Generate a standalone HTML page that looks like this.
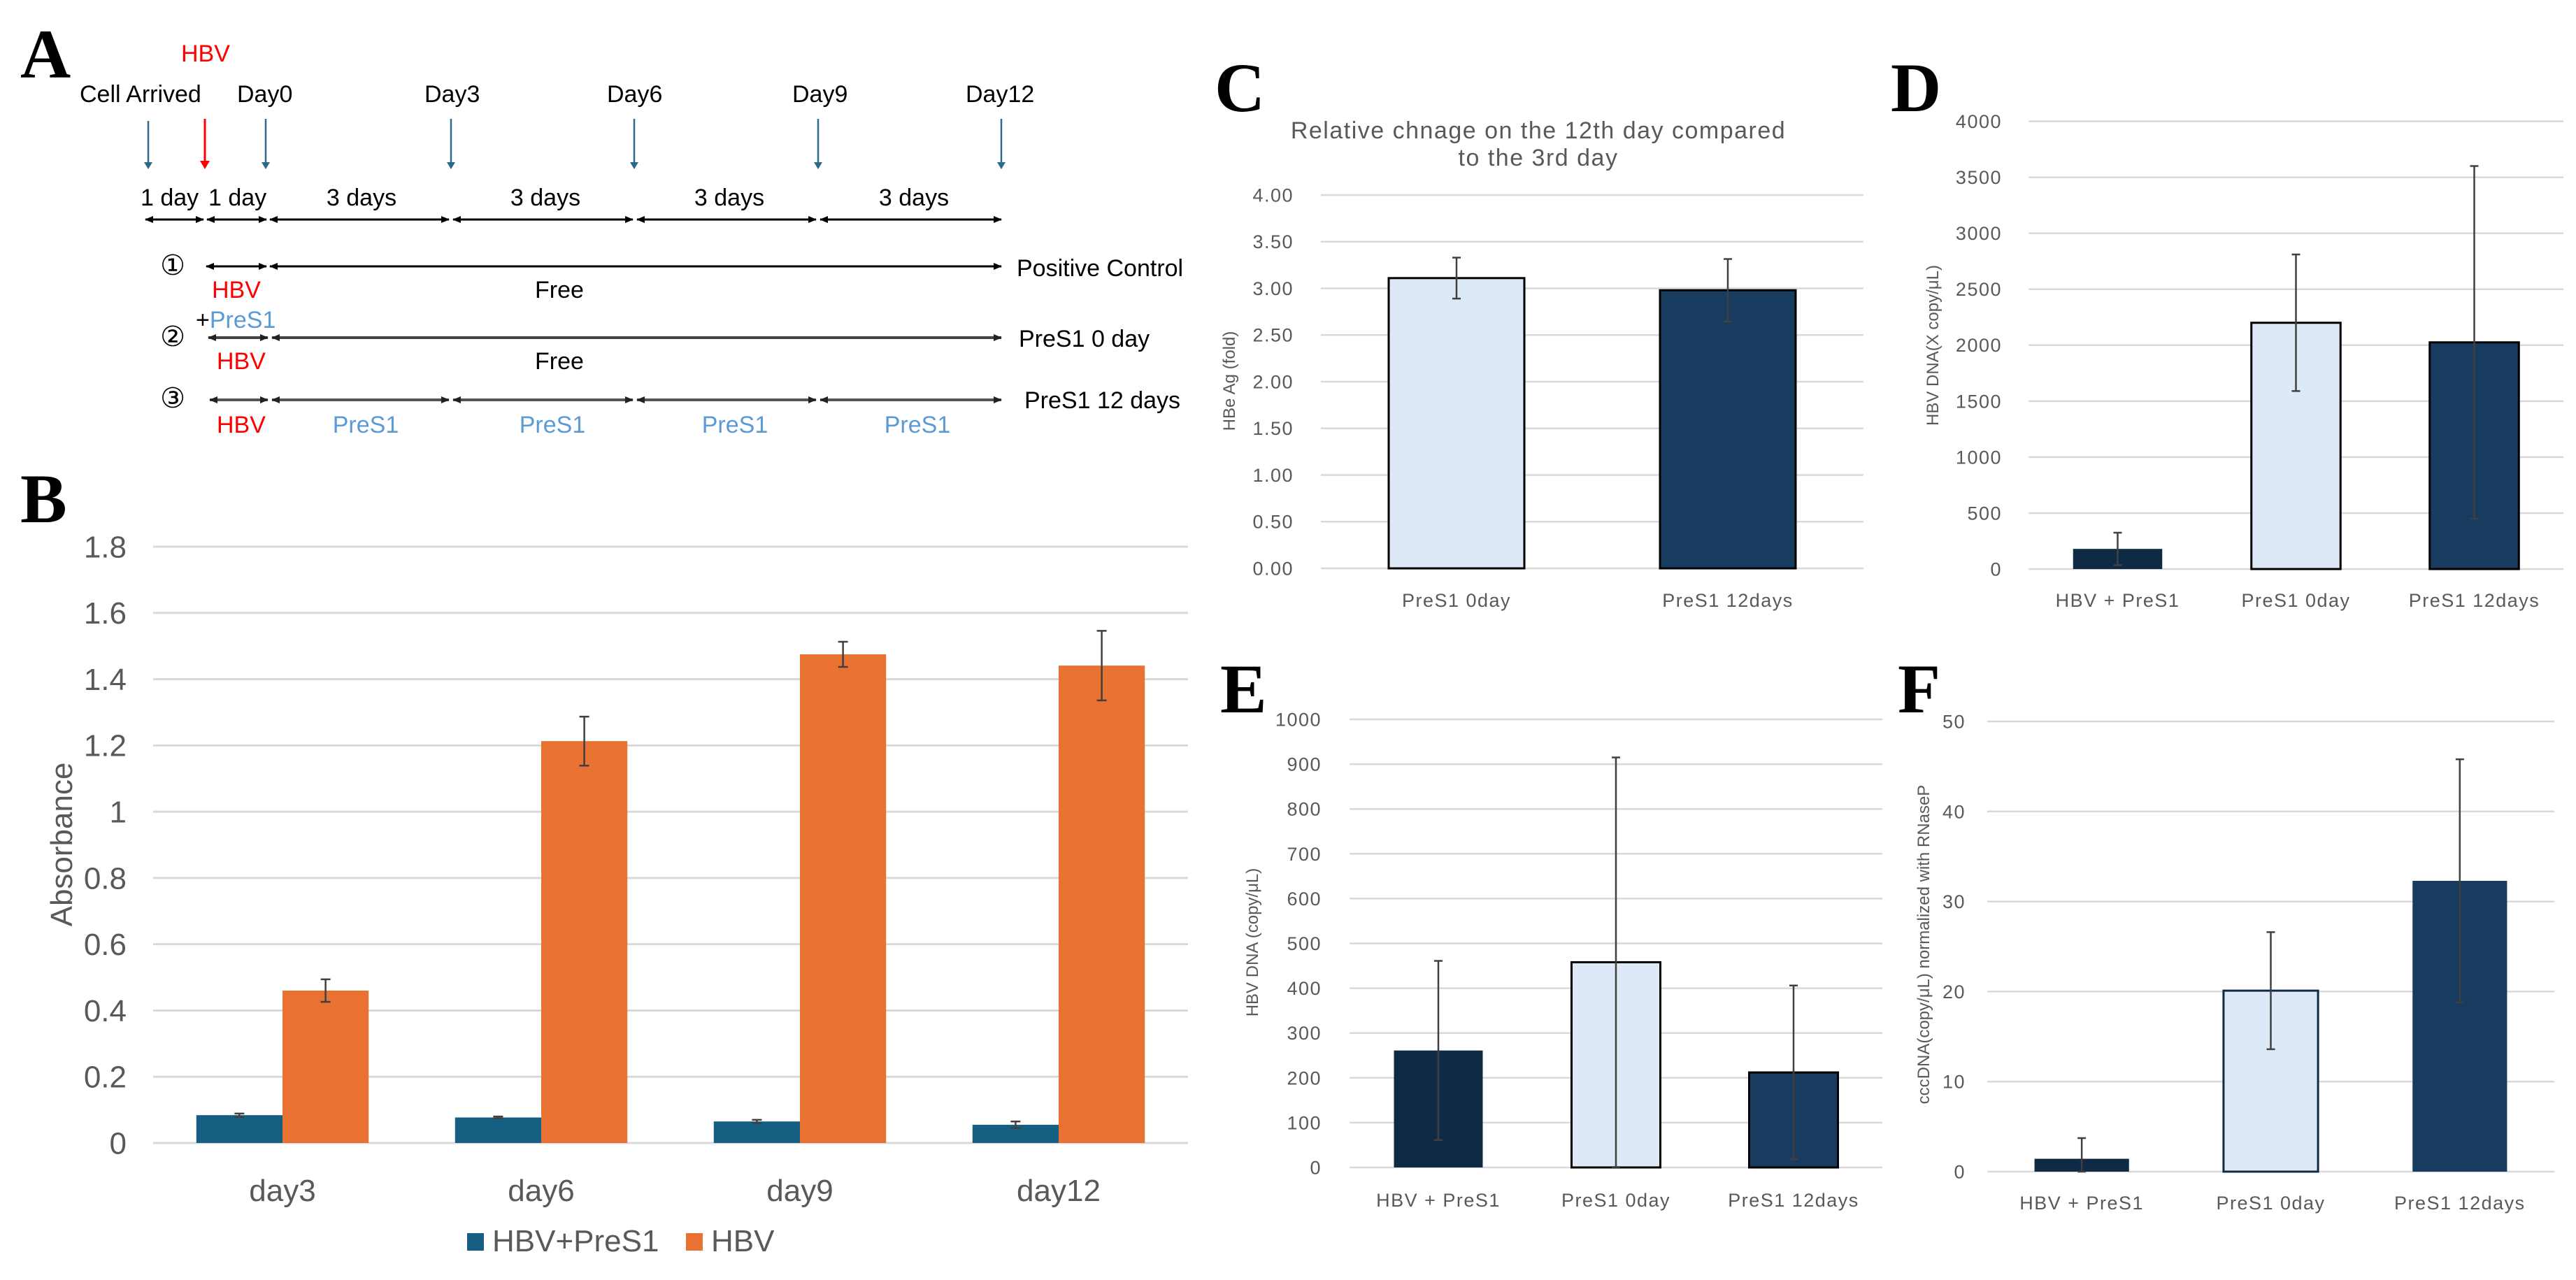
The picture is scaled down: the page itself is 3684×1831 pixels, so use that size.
<!DOCTYPE html>
<html><head><meta charset="utf-8"><style>
html,body{margin:0;padding:0;background:#fff;}
svg{display:block;font-family:"Liberation Sans",sans-serif;}
.lbl{font-family:"Liberation Serif",serif;font-weight:bold;font-size:100px;fill:#000;}
.ta{font-size:34px;fill:#000;}
.red{fill:#ff0000;}
.blue{fill:#5b9bd5;}
</style></head><body>
<svg id="fig" width="3684" height="1831" viewBox="0 0 3684 1831" xmlns="http://www.w3.org/2000/svg">
<defs>
<marker id="ah" markerWidth="12" markerHeight="10" refX="11" refY="5" orient="auto-start-reverse" markerUnits="userSpaceOnUse"><path d="M0,0 L12,5 L0,10 z" fill="#000"/></marker>
<marker id="ahg" markerWidth="12" markerHeight="10" refX="11" refY="5" orient="auto-start-reverse" markerUnits="userSpaceOnUse"><path d="M0,0 L12,5 L0,10 z" fill="#222"/></marker>
</defs>

<!-- Panel A -->
<g>
<text class="lbl" x="29" y="111">A</text>
<text class="ta red" x="259" y="88">HBV</text>
<text class="ta" x="114" y="146">Cell Arrived</text>
<text class="ta" x="339" y="146">Day0</text>
<text class="ta" x="607" y="146">Day3</text>
<text class="ta" x="868" y="146">Day6</text>
<text class="ta" x="1133" y="146">Day9</text>
<text class="ta" x="1381" y="146">Day12</text>
<g stroke="#2b6a8a" stroke-width="2.5">
<line x1="212" y1="173" x2="212" y2="236"/><line x1="380" y1="170" x2="380" y2="236"/><line x1="645" y1="170" x2="645" y2="236"/><line x1="907" y1="170" x2="907" y2="236"/><line x1="1170" y1="170" x2="1170" y2="236"/><line x1="1432" y1="170" x2="1432" y2="236"/>
</g>
<g fill="#2b6a8a"><path d="M206,232 L218,232 L212,242z"/><path d="M374,232 L386,232 L380,242z"/><path d="M639,232 L651,232 L645,242z"/><path d="M901,232 L913,232 L907,242z"/><path d="M1164,232 L1176,232 L1170,242z"/><path d="M1426,232 L1438,232 L1432,242z"/></g>
<line x1="293" y1="170" x2="293" y2="234" stroke="#ff0000" stroke-width="3"/>
<path d="M286,230 L300,230 L293,242z" fill="#ff0000"/>
<text class="ta" x="201" y="294">1 day</text>
<text class="ta" x="298" y="294">1 day</text>
<text class="ta" x="517" y="294" text-anchor="middle">3 days</text>
<text class="ta" x="780" y="294" text-anchor="middle">3 days</text>
<text class="ta" x="1043" y="294" text-anchor="middle">3 days</text>
<text class="ta" x="1307" y="294" text-anchor="middle">3 days</text>
<g stroke="#000" stroke-width="3" marker-start="url(#ah)" marker-end="url(#ah)">
<line x1="208" y1="314" x2="291" y2="314"/><line x1="296" y1="314" x2="381" y2="314"/><line x1="386" y1="314" x2="642" y2="314"/><line x1="648" y1="314" x2="905" y2="314"/><line x1="911" y1="314" x2="1167" y2="314"/><line x1="1173" y1="314" x2="1432" y2="314"/>
</g>
<text x="247" y="393" font-size="40" text-anchor="middle" font-family="DejaVu Sans,sans-serif">①</text>
<g stroke="#000" stroke-width="3" marker-start="url(#ah)" marker-end="url(#ah)">
<line x1="295" y1="381" x2="381" y2="381"/><line x1="386" y1="381" x2="1432" y2="381"/></g>
<text class="ta" x="1454" y="395">Positive Control</text>
<text class="ta red" x="303" y="426">HBV</text>
<text class="ta" x="765" y="426">Free</text>
<text class="ta" x="280" y="469">+<tspan class="blue">PreS1</tspan></text>
<text x="247" y="495" font-size="40" text-anchor="middle" font-family="DejaVu Sans,sans-serif">②</text>
<g stroke="#444" stroke-width="4" marker-start="url(#ahg)" marker-end="url(#ahg)">
<line x1="298" y1="483" x2="383" y2="483"/><line x1="389" y1="483" x2="1432" y2="483"/></g>
<text class="ta" x="1457" y="496">PreS1 0 day</text>
<text class="ta red" x="310" y="528">HBV</text>
<text class="ta" x="765" y="528">Free</text>
<text x="247" y="583" font-size="40" text-anchor="middle" font-family="DejaVu Sans,sans-serif">③</text>
<g stroke="#555" stroke-width="4" marker-start="url(#ahg)" marker-end="url(#ahg)">
<line x1="300" y1="572" x2="383" y2="572"/><line x1="389" y1="572" x2="642" y2="572"/><line x1="648" y1="572" x2="905" y2="572"/><line x1="911" y1="572" x2="1167" y2="572"/><line x1="1173" y1="572" x2="1432" y2="572"/></g>
<text class="ta" x="1465" y="584">PreS1 12 days</text>
<text class="ta red" x="310" y="619">HBV</text>
<text class="ta blue" x="523" y="619" text-anchor="middle">PreS1</text>
<text class="ta blue" x="790" y="619" text-anchor="middle">PreS1</text>
<text class="ta blue" x="1051" y="619" text-anchor="middle">PreS1</text>
<text class="ta blue" x="1312" y="619" text-anchor="middle">PreS1</text>
</g>

<text class="lbl" x="29" y="747">B</text>
<text class="lbl" x="1737" y="159">C</text>
<text class="lbl" x="2704" y="159">D</text>
<text class="lbl" x="1745" y="1019">E</text>
<text class="lbl" x="2714" y="1019">F</text>

<g id="chartB"></g>
<g id="chartC"></g>
<g id="chartD"></g>
<g id="chartE"></g>
<g id="chartF"></g>
</svg>
<script>
// Chart B data
const bCategories = ["day3","day6","day9","day12"];
const bSeriesNames = ["HBV+PreS1","HBV"];
const bPres1 = [0.084, 0.077, 0.065, 0.055];
const bPres1Err = [0.005, 0.003, 0.005, 0.01];
const bHbv = [0.46, 1.213, 1.475, 1.441];
const bHbvErr = [0.034, 0.074, 0.038, 0.105];
const bTicks = [0, 0.2, 0.4, 0.6, 0.8, 1, 1.2, 1.4, 1.6, 1.8];
const bTickLabels = ["0","0.2","0.4","0.6","0.8","1","1.2","1.4","1.6","1.8"];
// Chart C data
const cCategories = ["PreS1 0day","PreS1 12days"];
const cValues = [3.11, 2.98];
const cErr = [0.22, 0.335];
const cTicks = [0,0.5,1,1.5,2,2.5,3,3.5,4];
const cTickLabels = ["0.00","0.50","1.00","1.50","2.00","2.50","3.00","3.50","4.00"];
// Chart D data
const dCategories = ["HBV + PreS1","PreS1 0day","PreS1 12days"];
const dValues = [180, 2200, 2025];
const dErr = [145, 610, 1575];
const dTicks = [0,500,1000,1500,2000,2500,3000,3500,4000];
const dTickLabels = ["0","500","1000","1500","2000","2500","3000","3500","4000"];
// Chart E data
const eCategories = ["HBV + PreS1","PreS1 0day","PreS1 12days"];
const eValues = [261, 458, 212];
const eErr = [200, 457, 194];
const eTicks = [0,100,200,300,400,500,600,700,800,900,1000];
const eTickLabels = ["0","100","200","300","400","500","600","700","800","900","1000"];
// Chart F data
const fCategories = ["HBV + PreS1","PreS1 0day","PreS1 12days"];
const fValues = [1.43, 20.1, 32.3];
const fErr = [2.3, 6.5, 13.5];
const fTicks = [0,10,20,30,40,50];
const fTickLabels = ["0","10","20","30","40","50"];

const NS = "http://www.w3.org/2000/svg";
function mk(tag, attrs, parent){
  const e = document.createElementNS(NS, tag);
  for (const k in attrs) e.setAttribute(k, attrs[k]);
  parent.appendChild(e);
  return e;
}
function yScale(v, max, y0, y1){ return y0 - (v / max) * (y0 - y1); }

function axes(g, o, ticks, labels){
  ticks.forEach((t, i) => {
    const y = yScale(t, o.max, o.y0, o.y1);
    const gl = mk("line", {x1:o.left, x2:o.right, y1:y, y2:y, stroke:"#d9d9d9", "stroke-width":o.gw}, g);
    
    
    const tx = mk("text", {x:o.labelX, y:y + o.tfs*0.35, "text-anchor":"end", "font-size":o.tfs, fill:"#595959", "letter-spacing":o.ls}, g);
    tx.textContent = labels[i];
    
    
  });
}
function catLabels(g, o, cats){
  const band = (o.right - o.left) / cats.length;
  cats.forEach((c, i) => {
    const t = mk("text", {x:o.left + band*(i+0.5), y:o.catY, "text-anchor":"middle", "font-size":o.cfs, fill:"#595959", "letter-spacing":o.ls}, g);
    t.textContent = c;
    
    
  });
}
function errBar(g, x, v, e, o, cap){
  const yt = yScale(v + e, o.max, o.y0, o.y1), yb = yScale(Math.max(v - e, 0), o.max, o.y0, o.y1);
  const p = mk("path", {d:`M${x},${yt}V${yb}M${x-cap},${yt}H${x+cap}M${x-cap},${yb}H${x+cap}`, stroke:"#404040", "stroke-width":o.ew, fill:"none"}, g);
  
  
}
function yTitle(g, x, y, fs, txt){
  const t = mk("text", {x:x, y:y, transform:`rotate(-90 ${x} ${y})`, "text-anchor":"middle", "font-size":fs, fill:"#595959"}, g);
  t.textContent = txt;
  
  
}

// ---- Chart B ----
(function(){
  const g = document.getElementById("chartB");
  const o = {left:219, right:1699, y0:1635, y1:782, max:1.8, labelX:181, tfs:44, cfs:44, catY:1718, gw:3, ew:2.5, ls:0};
  axes(g, o, bTicks, bTickLabels);
  const band = (o.right - o.left) / bCategories.length, bw = band*0.333;
  bCategories.forEach((c, i) => {
    const cx = o.left + band*(i+0.5);
    const y1 = yScale(bPres1[i], o.max, o.y0, o.y1);
    const r1 = mk("rect", {x:cx-bw, y:y1, width:bw, height:o.y0-y1, fill:"#156082"}, g);
    
    
    const y2 = yScale(bHbv[i], o.max, o.y0, o.y1);
    const r2 = mk("rect", {x:cx, y:y2, width:bw, height:o.y0-y2, fill:"#e97132"}, g);
    
    
    errBar(g, cx - bw/2, bPres1[i], bPres1Err[i], o, 7);
    errBar(g, cx + bw/2, bHbv[i], bHbvErr[i], o, 7);
  });
  catLabels(g, o, bCategories);
  yTitle(g, 103, 1208, 44, "Absorbance");
  const cols = ["#156082","#e97132"], xs = [668, 981];
  bSeriesNames.forEach((n, i) => {
    const s = mk("rect", {x:xs[i], y:1764, width:24, height:25, fill:cols[i]}, g);
    
    
    const t = mk("text", {x:xs[i]+36, y:1790, "font-size":44, fill:"#595959"}, g);
    t.textContent = n;
    
    
  });
})();

function simpleChart(id, o, cats, vals, errs, ticks, labels, fills, strokes, title){
  const g = document.getElementById(id);
  axes(g, o, ticks, labels);
  const band = (o.right - o.left) / cats.length, bw = band*0.5;
  cats.forEach((c, i) => {
    const cx = o.left + band*(i+0.5);
    const y = yScale(vals[i], o.max, o.y0, o.y1);
    const r = mk("rect", {x:cx-bw/2, y:y, width:bw, height:o.y0-y, fill:fills[i], stroke:strokes[i], "stroke-width":strokes[i]==="none"?0:3}, g);
    
    
  });
  cats.forEach((c, i) => {
    const cx = o.left + band*(i+0.5);
    errBar(g, cx, vals[i], errs[i], o, 6);
  });
  catLabels(g, o, cats);
  yTitle(g, o.ytx, o.yty, o.yfs, title);
}
const base = {gw:2.5, ew:2.5, tfs:27, cfs:27, ls:1.5, yfs:24};
simpleChart("chartC", Object.assign({}, base, {left:1889, right:2665, y0:813, y1:279, max:4, labelX:1850, catY:868, ytx:1766, yty:545}),
  cCategories, cValues, cErr, cTicks, cTickLabels, ["#dde9f6","#183b60"], ["#000","#000"], "HBe Ag (fold)");
simpleChart("chartD", Object.assign({}, base, {left:2901, right:3666, y0:814, y1:173.5, max:4000, labelX:2863, catY:868, ytx:2772, yty:494}),
  dCategories, dValues, dErr, dTicks, dTickLabels, ["#0f2a44","#dde9f6","#183b60"], ["none","#000","#000"], "HBV DNA(X copy/μL)");
simpleChart("chartE", Object.assign({}, base, {left:1930, right:2692, y0:1670, y1:1029, max:1000, labelX:1890, catY:1726, ytx:1799, yty:1348}),
  eCategories, eValues, eErr, eTicks, eTickLabels, ["#0f2a44","#dde9f6","#183b60"], ["none","#000","#000"], "HBV DNA (copy/μL)");
simpleChart("chartF", Object.assign({}, base, {left:2842, right:3653, y0:1676, y1:1032, max:50, labelX:2811, catY:1730, ytx:2759, yty:1351}),
  fCategories, fValues, fErr, fTicks, fTickLabels, ["#0f2a44","#dde9f6","#183b60"], ["none","#0f2a44","none"], "cccDNA(copy/μL) normalized with RNaseP");

// Chart C title
(function(){
  const g = document.getElementById("chartC");
  const t1 = mk("text", {x:2200, y:198, "text-anchor":"middle", "font-size":34, fill:"#595959", "letter-spacing":1.5}, g);
  t1.textContent = "Relative chnage on the 12th day compared";
  
  
  const t2 = mk("text", {x:2200, y:237, "text-anchor":"middle", "font-size":34, fill:"#595959", "letter-spacing":1.5}, g);
  t2.textContent = "to the 3rd day";
  
  
})();
</script>
</body></html>
